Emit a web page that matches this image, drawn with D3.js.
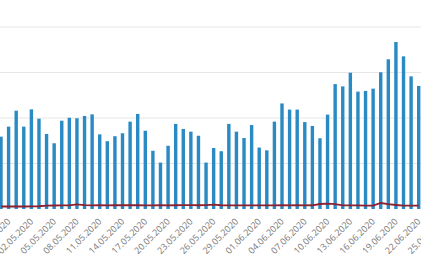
<!DOCTYPE html>
<html>
<head>
<meta charset="utf-8">
<script src="https://cdn.jsdelivr.net/npm/d3@7"></script>
<style>
html, body { margin: 0; padding: 0; background: #fff; overflow: hidden; }
svg { display: block; }
</style>
</head>
<body>
<svg id="chart" width="421" height="259"></svg>
<script>
// Categories (daily dates)
const dates = [
  "28.04.2020","29.04.2020","30.04.2020","01.05.2020","02.05.2020","03.05.2020","04.05.2020",
  "05.05.2020","06.05.2020","07.05.2020","08.05.2020","09.05.2020","10.05.2020","11.05.2020",
  "12.05.2020","13.05.2020","14.05.2020","15.05.2020","16.05.2020","17.05.2020","18.05.2020",
  "19.05.2020","20.05.2020","21.05.2020","22.05.2020","23.05.2020","24.05.2020","25.05.2020",
  "26.05.2020","27.05.2020","28.05.2020","29.05.2020","30.05.2020","31.05.2020","01.06.2020",
  "02.06.2020","03.06.2020","04.06.2020","05.06.2020","06.06.2020","07.06.2020","08.06.2020",
  "09.06.2020","10.06.2020","11.06.2020","12.06.2020","13.06.2020","14.06.2020","15.06.2020",
  "16.06.2020","17.06.2020","18.06.2020","19.06.2020","20.06.2020","21.06.2020","22.06.2020"
];
// Bar series (blue)
const barValues = [
  1590,1810,2160,1810,2190,1985,1650,
  1445,1940,2005,1995,2045,2080,1640,
  1490,1600,1665,1920,2090,1720,1280,
  1020,1390,1870,1760,1700,1610,1020,
  1340,1270,1870,1700,1560,1845,1350,
  1290,1920,2320,2185,2185,1910,1825,
  1555,2075,2745,2695,2995,2580,2595,
  2645,3005,3290,3670,3355,2915,2705
];
// Line series (dark red)
const lineValues = [
  55,55,58,55,58,60,75,
  77,78,80,103,85,80,82,
  80,82,84,82,85,80,80,
  82,80,82,84,84,82,85,
  95,82,80,80,78,78,80,
  80,80,82,80,82,80,82,
  110,116,108,80,78,78,75,
  75,132,105,88,72,72,73
];
// Tick labels (every third day)
const tickLabels = [
  "29.04.2020","02.05.2020","05.05.2020","08.05.2020","11.05.2020","14.05.2020","17.05.2020",
  "20.05.2020","23.05.2020","26.05.2020","29.05.2020","01.06.2020","04.06.2020","07.06.2020",
  "10.06.2020","13.06.2020","16.06.2020","19.06.2020","22.06.2020","25.06.2020"
];
const yGrid = [1000, 2000, 3000, 4000];

const parse = d3.timeParse("%d.%m.%Y");
const svg = d3.select("#chart");

const x = d3.scaleTime()
  .domain([parse(dates[0]), parse(dates[dates.length - 1])])
  .range([1, 418.7]);
const y = d3.scaleLinear().domain([0, 4000]).range([209, 27]);

// grid
svg.append("g").selectAll("line").data(yGrid).join("line")
  .attr("x1", 0).attr("x2", 421)
  .attr("y1", d => y(d)).attr("y2", d => y(d))
  .attr("stroke", "#e6e6e6").attr("stroke-width", 1);

const barW = 3.4;
svg.append("g").selectAll("rect").data(dates).join("rect")
  .attr("x", (d) => x(parse(d)) - barW / 2)
  .attr("width", barW)
  .attr("y", (d, i) => y(barValues[i]))
  .attr("height", (d, i) => y(0) - y(barValues[i]))
  .attr("fill", "#2a8ac3");

const line = d3.line()
  .x(d => x(parse(d.date)))
  .y(d => y(d.v))
  .curve(d3.curveLinear);
svg.append("path")
  .datum(dates.map((d, i) => ({date: d, v: lineValues[i]})))
  .attr("d", line)
  .attr("fill", "none")
  .attr("stroke", "#8e1f2e")
  .attr("stroke-width", 1.8);

// x axis labels
const xAxis = d3.axisBottom(x)
  .tickValues(tickLabels.map(parse))
  .tickFormat(d3.timeFormat("%d.%m.%Y"))
  .tickSize(0);
const gx = svg.append("g").attr("transform", "translate(0,212)").call(xAxis);
gx.select(".domain").remove();
gx.selectAll("text")
  .attr("font-family", "'Open Sans', sans-serif")
  .attr("font-size", "9px")
  .attr("fill", "#777")
  .attr("text-anchor", "end")
  .attr("dy", null)
  .attr("y", 0)
  .attr("transform", "translate(2,10) rotate(-45)");
</script>
</body>
</html>
